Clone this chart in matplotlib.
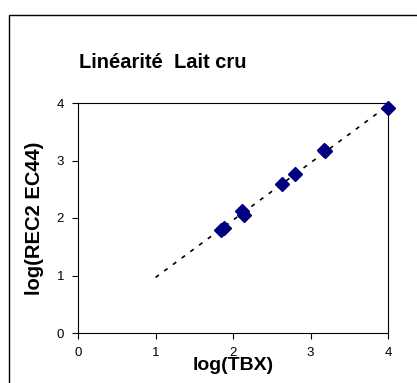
import numpy as np
import matplotlib.pyplot as plt
from matplotlib.patches import Rectangle

plt.rcParams['font.family'] = ['Liberation Sans', 'DejaVu Sans']

log_tbx = [1.85, 1.88, 2.11, 2.14, 2.63, 2.80, 3.17, 3.19, 4.00]
log_rec = [1.79, 1.83, 2.13, 2.05, 2.59, 2.77, 3.18, 3.17, 3.91]
ticks = [0, 1, 2, 3, 4]

fig = plt.figure(figsize=(4.17, 3.83), dpi=100)
# outer chart-area frame, runs off the right and bottom edges
fig.add_artist(Rectangle((9 / 417, -0.1), 1.2, 0.1 + 1 - 15 / 383,
                         transform=fig.transFigure, fill=False,
                         edgecolor='black', linewidth=1.0))

ax = fig.add_axes([78 / 417, 1 - 333 / 383, 310 / 417, 230 / 383])

# linear trend, drawn from x=1 to x=4
slope, icpt = np.polyfit(log_tbx, log_rec, 1)
xt = np.array([1, 4])
ax.plot(xt, slope * xt + icpt, color='black', linewidth=1.2,
        linestyle=(0, (2.5, 4)), zorder=2)

ax.plot(log_tbx, log_rec, linestyle='none', marker='D', markersize=7,
        color='#000080', clip_on=False, zorder=3)

ax.set_xlim(0, 4)
ax.set_ylim(0, 4)
ax.set_xticks(ticks)
ax.set_yticks(ticks)
ax.tick_params(labelsize=9.5, length=4, width=0.8, direction='out')
ax.tick_params(axis='x', pad=6)
ax.tick_params(axis='y', pad=6)
for s in ax.spines.values():
    s.set_linewidth(0.8)

ax.set_xlabel('log(TBX)', fontsize=14, fontweight='bold', labelpad=-1)
ax.set_ylabel('log(REC2 EC44)', fontsize=14.5, fontweight='bold', labelpad=9)
fig.text(79 / 417, 1 - 62 / 383, 'Linéarité  Lait cru', fontsize=14.5,
         fontweight='bold', va='center', ha='left')

fig.savefig('out.png', dpi=100)
